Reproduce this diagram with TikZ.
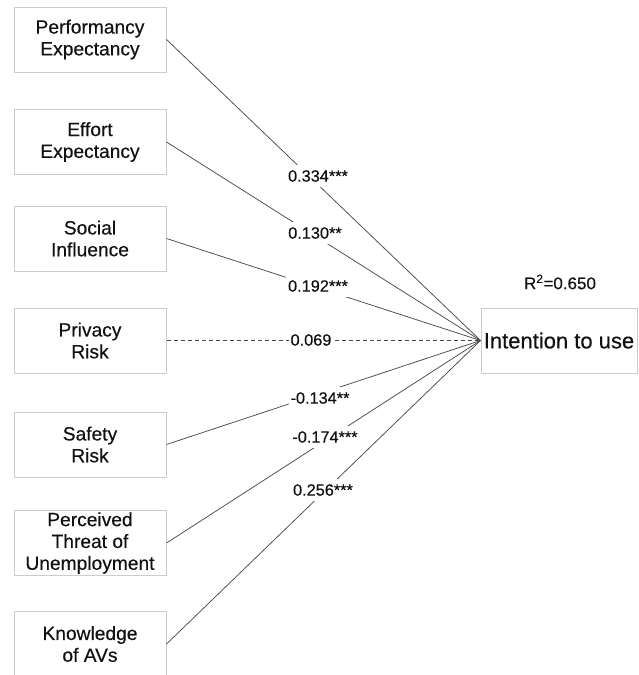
\documentclass[tikz,border=0pt]{standalone}
\usepackage{fontspec}
\setmainfont{Liberation Sans}[FakeBold=0.35]
\definecolor{boxgray}{HTML}{CCCCCC}
\definecolor{linegray}{HTML}{4A4A4A}
\definecolor{txt}{HTML}{111111}
\begin{document}
\begin{tikzpicture}[x=1pt,y=-1pt,
  cbox/.style={draw=boxgray,line width=1pt,minimum width=152pt,minimum height=65pt,inner sep=0pt,align=center,text=txt,font=\fontsize{19.2}{21.8}\selectfont},
  tbox/.style={draw=boxgray,line width=1pt,minimum width=156pt,minimum height=65pt,inner sep=0pt,align=center,text=txt,font=\fontsize{22}{26}\selectfont},
  conn/.style={draw=linegray,line width=0.75pt},
  coef/.style={fill=white,inner xsep=2pt,inner ysep=5pt,text=txt,font=\fontsize{16.3}{19}\selectfont}]
\useasboundingbox (0,0) rectangle (638,675);
\node[cbox] (pe) at (90,39.5) {Performancy\\Expectancy};
\node[cbox] (ee) at (90,142) {Effort\\Expectancy};
\node[cbox] (si) at (90,238.5) {Social\\Influence};
\node[cbox] (pr) at (90,340.5) {Privacy\\Risk};
\node[cbox] (sr) at (90,444.5) {Safety\\Risk};
\node[cbox] (pt) at (90,543) {Perceived\\Threat of\\Unemployment};
\node[cbox] (ka) at (90,644) {Knowledge\\of AVs};
\node[tbox] (it) at (559,340.5) {Intention to use};
\node[text=txt,font=\fontsize{17}{20}\selectfont] (r2) at (560,282) {R\textsuperscript{2}=0.650};
\coordinate (c) at (it.west);
\draw[conn] (pe.east) -- (c);
\draw[conn] (ee.east) -- (c);
\draw[conn] (si.east) -- (c);
\draw[conn,dash pattern=on 4pt off 3pt] (pr.east) -- (c);
\draw[conn] (sr.east) -- (c);
\draw[conn] (pt.east) -- (c);
\draw[conn] (ka.east) -- (c);
\node[coef] (l1) at (318,176) {0.334***};
\node[coef] (l2) at (315,233) {0.130**};
\node[coef] (l3) at (318,286) {0.192***};
\node[coef] (l4) at (311,340) {0.069};
\node[coef] (l5) at (320,398) {-0.134**};
\node[coef] (l6) at (325,437) {-0.174***};
\node[coef] (l7) at (323,490) {0.256***};
\end{tikzpicture}
\end{document}
